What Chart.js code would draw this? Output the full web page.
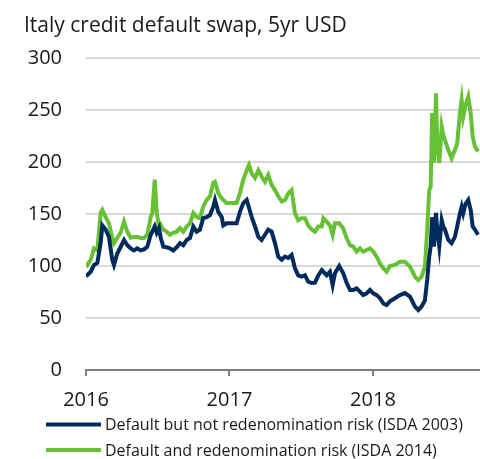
<!DOCTYPE html>
<html>
<head>
<meta charset="utf-8">
<script src="https://cdn.jsdelivr.net/npm/chart.js@4"></script>
<style>
  body { margin: 0; background: #fff; }
  #wrap { width: 480px; height: 459px; }
</style>
</head>
<body>
<div id="wrap"><canvas id="cdsChart"></canvas></div>
<script>
// time axis in decimal years
const years = [
  2016.000, 2016.033, 2016.056, 2016.079, 2016.102, 2016.114, 2016.137, 2016.160, 2016.183, 2016.195,
  2016.218, 2016.242, 2016.265, 2016.288, 2016.311, 2016.334, 2016.357, 2016.381, 2016.404, 2016.427,
  2016.451, 2016.462, 2016.479, 2016.493, 2016.509, 2016.519, 2016.539, 2016.562, 2016.585, 2016.608,
  2016.632, 2016.655, 2016.678, 2016.702, 2016.725, 2016.748, 2016.771, 2016.794, 2016.817, 2016.841,
  2016.864, 2016.887, 2016.899, 2016.922, 2016.946, 2016.957, 2016.980, 2017.015, 2017.050, 2017.073,
  2017.096, 2017.120, 2017.136, 2017.155, 2017.178, 2017.201, 2017.224, 2017.247, 2017.270, 2017.294,
  2017.317, 2017.340, 2017.364, 2017.387, 2017.410, 2017.433, 2017.456, 2017.479, 2017.503, 2017.526,
  2017.549, 2017.573, 2017.596, 2017.619, 2017.643, 2017.654, 2017.677, 2017.700, 2017.719, 2017.735,
  2017.765, 2017.793, 2017.817, 2017.840, 2017.863, 2017.886, 2017.909, 2017.932, 2017.956, 2017.979,
  2018.002, 2018.026, 2018.049, 2018.072, 2018.095, 2018.118, 2018.153, 2018.188, 2018.223, 2018.258,
  2018.293, 2018.316, 2018.339, 2018.362, 2018.378, 2018.392, 2018.402, 2018.413, 2018.425, 2018.439,
  2018.448, 2018.462, 2018.479, 2018.490, 2018.502, 2018.525, 2018.548, 2018.571, 2018.587, 2018.606,
  2018.618, 2018.629, 2018.646, 2018.664, 2018.681, 2018.695, 2018.711, 2018.732
];

// Default but not redenomination risk (ISDA 2003)
const isda2003 = [
  90, 94.5, 101, 103, 122, 139, 135, 128, 106, 101,
  112, 118.5, 125, 120, 117, 115, 117, 115, 116, 118.5,
  130, 133, 138, 132, 136.5, 128, 118.5, 118, 117, 115,
  118, 122, 120, 125, 127, 138, 133, 135, 146, 147,
  149, 157, 163.5, 152, 147, 139, 141, 141, 141, 152,
  160.5, 163.5, 156, 147, 138, 128, 125, 130, 135, 133,
  122, 109, 106, 109, 107.7, 110.6, 98, 91, 89.7, 91,
  85, 83.6, 84, 91, 96, 94.5, 91, 94.5, 81.7, 93,
  100, 93, 83.6, 77, 77, 78.5, 75.3, 72, 73.7, 77,
  73.7, 72, 69, 64, 62.5, 66, 69, 72, 74, 70.5,
  61, 57.7, 61, 67, 86.5, 109, 118.6, 147, 118.6, 151,
  135, 118.6, 144, 138, 135, 125, 122, 128, 138, 150.6,
  157, 150.6, 160, 163.5, 154, 138, 135, 130
];

// Default and redenomination risk (ISDA 2014)
const isda2014 = [
  99, 106, 117, 115, 151, 154, 147, 141, 127, 122,
  127, 132, 142.6, 133, 127, 128, 128, 127, 127, 130,
  147, 151, 183, 151, 138, 140, 135, 133, 130, 132,
  133, 136.5, 133, 138, 141, 151, 147, 146, 157, 163.5,
  167, 180, 181, 170, 165, 163.5, 160.5, 160.5, 160.5, 170,
  183, 192, 197, 189, 184.6, 192, 186, 181, 187.5, 178,
  173, 167, 162, 163.5, 170, 173, 151, 144, 146, 146,
  139, 135, 133, 138, 138, 146, 142.6, 139, 130, 141,
  141, 136, 126.6, 120, 118.6, 113.8, 117, 113.8, 115.4, 117,
  113.8, 109, 102.5, 97.8, 94.5, 100, 101, 104, 104, 99.4,
  89.7, 86.5, 89.7, 99.4, 135, 173, 176, 247, 199, 266,
  215, 199, 234, 226, 221, 211.5, 203.5, 211.5, 218, 247,
  259.6, 243.6, 255, 263, 247, 224.4, 215, 210
];

const yTicks = [0, 50, 100, 150, 200, 250, 300];
const xTicks = [2016, 2017, 2018];

const BLUE = "#002b5c";
const GREEN = "#67c135";
const TEXT = "#1a1a1a";
const FONT = "'Open Sans', 'Noto Sans', sans-serif";

// title and legend are drawn by hand so they can sit at their own left edges
const titleLegendPlugin = {
  id: "titleLegend",
  afterDraw(chart) {
    const ctx = chart.ctx;
    ctx.save();
    ctx.font = "21px " + FONT;
    ctx.fillStyle = TEXT;
    ctx.textBaseline = "alphabetic";
    ctx.textAlign = "left";
    ctx.fillText("Italy credit default swap, 5yr USD", 24, 32);

    ctx.font = "16px " + FONT;
    ctx.textBaseline = "middle";
    chart.data.datasets.forEach((ds, i) => {
      const y = 424.5 + i * 25.5;
      ctx.strokeStyle = ds.borderColor;
      ctx.lineWidth = 4;
      ctx.beginPath();
      ctx.moveTo(46, y);
      ctx.lineTo(101, y);
      ctx.stroke();
      ctx.fillStyle = TEXT;
      ctx.fillText(ds.label, 105, y + 1);
    });
    ctx.restore();
  }
};

const toPoints = (vals) => vals.map((v, i) => ({ x: years[i], y: v }));

const ctx = document.getElementById("cdsChart").getContext("2d");
const cdsChart = new Chart(ctx, {
  type: "line",
  data: {
    datasets: [
      {
        label: "Default but not redenomination risk (ISDA 2003)",
        data: toPoints(isda2003),
        borderColor: BLUE,
        backgroundColor: BLUE,
        borderWidth: 4,
        pointRadius: 0,
        tension: 0,
        fill: false
      },
      {
        label: "Default and redenomination risk (ISDA 2014)",
        data: toPoints(isda2014),
        borderColor: GREEN,
        backgroundColor: GREEN,
        borderWidth: 4,
        pointRadius: 0,
        tension: 0,
        fill: false
      }
    ]
  },
  options: {
    responsive: true,
    maintainAspectRatio: false,
    animation: false,
    layout: { padding: { top: 58, left: 24, right: 0, bottom: 52.5 } },
    plugins: {
      tooltip: { enabled: false },
      legend: { display: false }
    },
    scales: {
      x: {
        type: "linear",
        min: xTicks[0],
        max: 2018.746,
        afterBuildTicks: (s) => { s.ticks = xTicks.map((v) => ({ value: v })); },
        afterFit: (s) => { s.height = 36.5; },
        ticks: {
          padding: 12,
          maxRotation: 0,
          font: { family: FONT, size: 20 },
          color: TEXT,
          callback: (v) => String(v)
        },
        grid: {
          drawOnChartArea: false,
          drawTicks: true,
          tickLength: 6,
          color: "#808080",
          lineWidth: 2
        },
        border: { display: true, color: "#808080", width: 2 }
      },
      y: {
        min: 0,
        max: 300,
        afterBuildTicks: (s) => { s.ticks = yTicks.map((v) => ({ value: v })); },
        afterFit: (s) => { s.width = 62; },
        ticks: {
          padding: 24,
          font: { family: FONT, size: 20 },
          color: TEXT
        },
        grid: {
          drawTicks: false,
          color: (c) => (c.tick && c.tick.value === 0 ? "rgba(0,0,0,0)" : "#d9d9d9"),
          lineWidth: 2
        },
        border: { display: false }
      }
    }
  },
  plugins: [titleLegendPlugin]
});
</script>
</body>
</html>
